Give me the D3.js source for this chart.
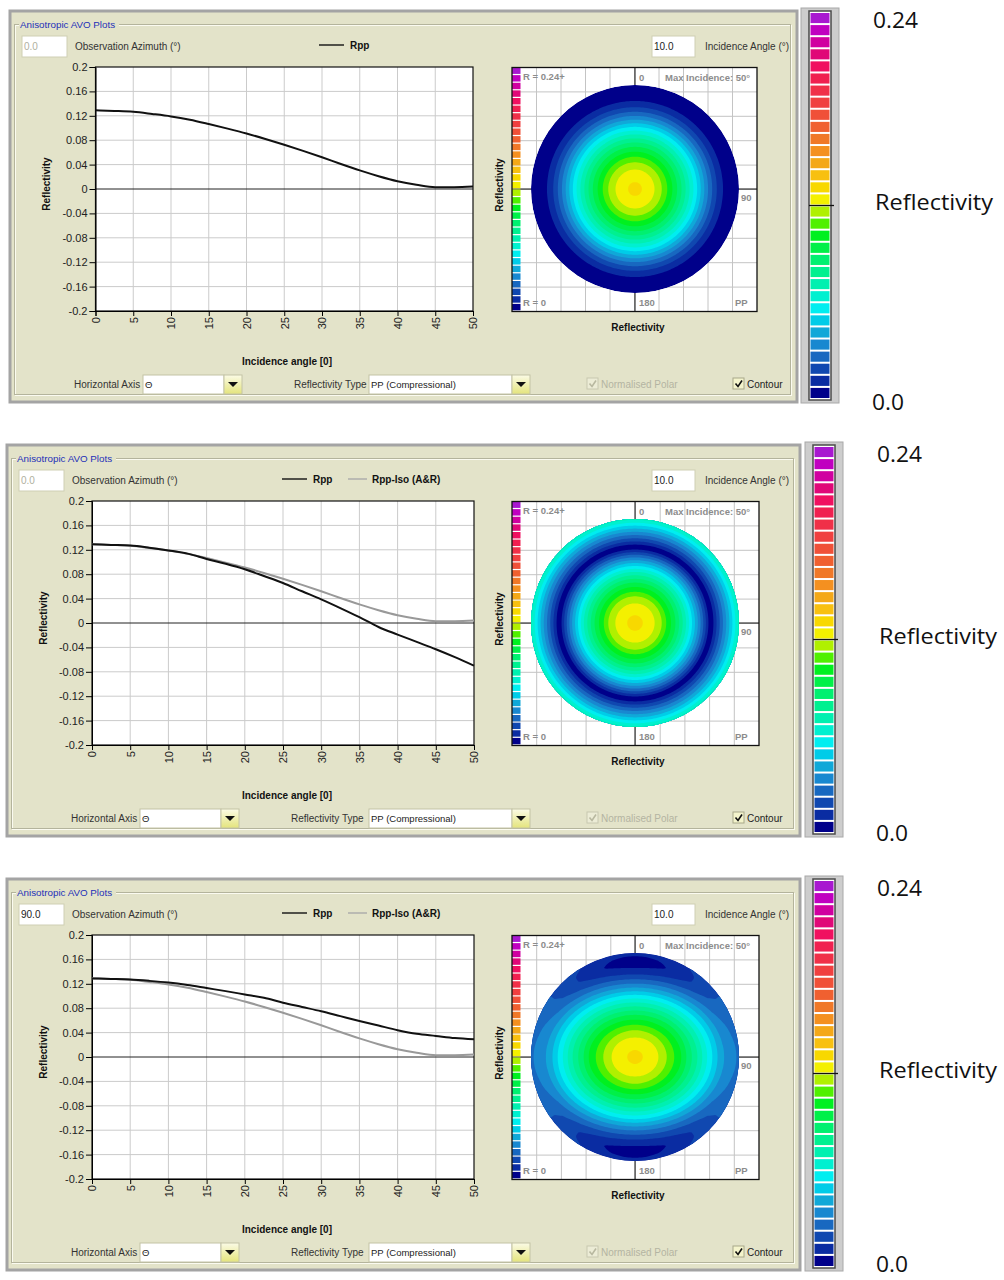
<!DOCTYPE html>
<html>
<head>
<meta charset="utf-8">
<script src="https://cdn.jsdelivr.net/npm/d3@7"></script>
<style>
  body { margin: 0; background: #fff; }
  svg { display: block; font-family: "Liberation Sans", Arial, sans-serif; }
</style>
</head>
<body>
<svg id="chart" width="1004" height="1280"></svg>
<script>
// incidence angles (deg) where the curves were read
const angles = [0, 2.5, 5, 7.5, 10, 12.5, 15, 17.5, 20, 22.5, 25, 27.5, 30, 32.5, 35, 37.5, 40, 42.5, 45, 47.5, 50];

// Rpp-Iso (A&R); also the single Rpp curve of the top plot
const rppIso = [0.129, 0.128, 0.1265, 0.123, 0.119, 0.1135, 0.1065, 0.099, 0.091, 0.082, 0.0725, 0.0625, 0.052, 0.041, 0.0305, 0.021, 0.0128, 0.007, 0.003, 0.003, 0.004];
// middle plot, Rpp at azimuth 0
const rppMid = [0.129, 0.128, 0.127, 0.1235, 0.119, 0.1137, 0.105, 0.097, 0.088, 0.077, 0.0656, 0.052, 0.0388, 0.0245, 0.0095, -0.0065, -0.019, -0.031, -0.043, -0.056, -0.070];
// bottom plot, Rpp at azimuth 90
const rppBot90 = [0.1288, 0.128, 0.127, 0.1248, 0.122, 0.118, 0.113, 0.108, 0.1025, 0.097, 0.089, 0.082, 0.075, 0.067, 0.059, 0.0515, 0.044, 0.038, 0.0345, 0.031, 0.029];
// bottom plot, Rpp at azimuth 0 (only seen in the polar map)
const rppBot0 = [0.129, 0.128, 0.1265, 0.123, 0.119, 0.1135, 0.1065, 0.099, 0.091, 0.082, 0.0725, 0.0625, 0.052, 0.041, 0.031, 0.022, 0.014, 0.008, 0.004, 0.006, 0.010];

const xTicks = [0, 5, 10, 15, 20, 25, 30, 35, 40, 45, 50];
const yTicks = [0.2, 0.16, 0.12, 0.08, 0.04, 0, -0.04, -0.08, -0.12, -0.16, -0.2];
const yTickLabels = ['0.2', '0.16', '0.12', '0.08', '0.04', '0', '-0.04', '-0.08', '-0.12', '-0.16', '-0.2'];

// 32 reflectivity levels, 0 -> 0.24, bottom to top
const levelColors = [
  '#00008a', '#0a2ca2', '#1048b0', '#1868c0', '#1888d0', '#10a8d8', '#00cce8', '#00eef0',
  '#00f0d0', '#00f0b0', '#00f090', '#00f070', '#00f048', '#00f020', '#50f000', '#b0f000',
  '#f4f000', '#f8d800', '#f8c010', '#f4a818', '#f49020', '#f07828', '#f06030', '#f05038',
  '#f04040', '#f03048', '#f02050', '#f01060', '#e00878', '#d000a0', '#c000c0', '#a818d0'
];
const colorbarLabels = ['0.24', 'Reflectivity', '0.0'];

const panels = [
  { top: 0, frameL: 10, frameR: 797, plotL: 95.5, plotR: 473, boxR: 757, barX: 801, labelX: 873, lowY: 410,
    az: '0.0', azEnabled: false, legendX: 319,
    series: [{ name: 'Rpp', values: rppIso, color: '#111' }], polar: [rppIso, rppIso] },
  { top: 434, frameL: 7, frameR: 800, plotL: 92, plotR: 474, boxR: 759, barX: 805, labelX: 877, lowY: 407,
    az: '0.0', azEnabled: false, legendX: 282,
    series: [{ name: 'Rpp', values: rppMid, color: '#111' }, { name: 'Rpp-Iso (A&R)', values: rppIso, color: '#999' }],
    polar: [rppMid, rppMid] },
  { top: 868, frameL: 7, frameR: 800, plotL: 92, plotR: 474, boxR: 759, barX: 805, labelX: 877, lowY: 404,
    az: '90.0', azEnabled: true, legendX: 282,
    series: [{ name: 'Rpp', values: rppBot90, color: '#111' }, { name: 'Rpp-Iso (A&R)', values: rppIso, color: '#999' }],
    polar: [rppBot0, rppBot90] }
];

const svg = d3.select('#chart');
svg.append('rect').attr('width', 1004).attr('height', 1280).attr('fill', '#fff');

const BG = '#e3e3c9';
const levelStep = 0.24 / levelColors.length;
const thresholds = d3.range(1, levelColors.length).map(k => k * levelStep);

const defs = svg.append('defs');
const btnGrad = defs.append('linearGradient').attr('id', 'btn').attr('x1', 0).attr('x2', 0).attr('y1', 0).attr('y2', 1);
btnGrad.append('stop').attr('offset', '0%').attr('stop-color', '#fbfbe6');
btnGrad.append('stop').attr('offset', '100%').attr('stop-color', '#e4e47c');

function textAt(g, x, y, str, opts = {}) {
  return g.append('text').attr('x', x).attr('y', y).text(str)
    .attr('font-size', opts.size || 10)
    .attr('font-weight', opts.bold ? 'bold' : null)
    .attr('fill', opts.fill || '#333')
    .attr('text-anchor', opts.anchor || 'start');
}

function inputBox(g, x, y, w, h, str, fill) {
  g.append('rect').attr('x', x).attr('y', y).attr('width', w).attr('height', h)
    .attr('fill', '#fff').attr('stroke', '#cfcfb4');
  textAt(g, x + 2, y + 14, str, { fill });
}

function combo(g, x, y, w, str) {
  g.append('rect').attr('x', x).attr('y', y).attr('width', w).attr('height', 19)
    .attr('fill', '#fff').attr('stroke', '#c4c4a6');
  textAt(g, x + 2, y + 13, str, { size: 9.5, fill: '#222' });
  g.append('rect').attr('x', x + w).attr('y', y).attr('width', 18).attr('height', 19)
    .attr('fill', 'url(#btn)').attr('stroke', '#c4c4a6');
  g.append('path').attr('d', `M${x + w + 4},${y + 7}h10l-5,5z`).attr('fill', '#111');
}

function checkbox(g, x, y, label, enabled) {
  g.append('rect').attr('x', x).attr('y', y).attr('width', 11).attr('height', 11)
    .attr('fill', enabled ? '#f4f4cc' : '#ececd6').attr('stroke', enabled ? '#a8a88a' : '#c8c8b0');
  g.append('path').attr('d', `M${x + 2.5},${y + 5.5}l2.5,3l4,-6`)
    .attr('fill', 'none').attr('stroke', enabled ? '#111' : '#b8b8a0').attr('stroke-width', 1.6);
  textAt(g, x + 14, y + 10, label, { fill: enabled ? '#222' : '#b4b4a2' });
}

function drawChart(g, p) {
  const x = d3.scaleLinear().domain([0, 50]).range([p.plotL, p.plotR]);
  const y = d3.scaleLinear().domain([-0.2, 0.2]).range([311, 67]);

  g.append('rect').attr('x', p.plotL).attr('y', 67).attr('width', p.plotR - p.plotL).attr('height', 244).attr('fill', '#fff');

  g.append('g').selectAll('line').data(xTicks.slice(1, -1)).join('line')
    .attr('x1', d => x(d)).attr('x2', d => x(d)).attr('y1', 67).attr('y2', 311)
    .attr('stroke', '#cbcbcb');
  g.append('g').selectAll('line').data(yTicks.filter(d => d !== 0 && Math.abs(d) < 0.2)).join('line')
    .attr('x1', p.plotL).attr('x2', p.plotR).attr('y1', d => y(d)).attr('y2', d => y(d))
    .attr('stroke', '#cbcbcb');
  g.append('line').attr('x1', p.plotL).attr('x2', p.plotR).attr('y1', y(0)).attr('y2', y(0)).attr('stroke', '#222');
  g.append('rect').attr('x', p.plotL).attr('y', 67).attr('width', p.plotR - p.plotL).attr('height', 244)
    .attr('fill', 'none').attr('stroke', '#111').attr('stroke-width', 1.2);

  const ya = g.append('g').attr('transform', `translate(${p.plotL},0)`)
    .call(d3.axisLeft(y).tickValues(yTicks).tickSize(6).tickPadding(2).tickFormat((d, i) => yTickLabels[i]));
  ya.attr('font-size', 11).attr('font-family', null);
  ya.selectAll('text').attr('fill', '#222');

  const xa = g.append('g').attr('transform', 'translate(0,311)')
    .call(d3.axisBottom(x).tickValues(xTicks).tickSize(5));
  xa.attr('font-size', 11).attr('font-family', null);
  xa.selectAll('text').attr('transform', 'rotate(-90)').attr('text-anchor', 'end')
    .attr('x', -6).attr('y', 0).attr('dy', '0.35em').attr('fill', '#222');

  const line = d3.line().x((d, i) => x(angles[i])).y(d => y(d)).curve(d3.curveMonotoneX);
  g.append('g').selectAll('path').data(p.series.slice().reverse()).join('path')
    .attr('d', d => line(d.values)).attr('fill', 'none')
    .attr('stroke', d => d.color).attr('stroke-width', 2);

  textAt(g, 47 + (p.frameL - 7), 184, 'Reflectivity', { bold: true, fill: '#111', anchor: 'middle' })
    .attr('transform', `rotate(-90,${47 + (p.frameL - 7)},184)`);
  textAt(g, 287, 365, 'Incidence angle [0]', { bold: true, fill: '#111', anchor: 'middle' });
}

function drawPolar(g, p, idx) {
  const bx = 512, by = 67.5, bw = p.boxR - 512, bh = 244;
  const cx = 635, cy = 189, R = 104;
  g.append('rect').attr('x', bx).attr('y', by).attr('width', bw).attr('height', bh).attr('fill', '#fff');
  const cols = d3.range(1, 10);
  g.append('g').selectAll('line').data(cols).join('line')
    .attr('x1', d => bx + d * bw / 10).attr('x2', d => bx + d * bw / 10).attr('y1', by).attr('y2', by + bh)
    .attr('stroke', '#c4c4c4');
  g.append('g').selectAll('line').data(cols).join('line')
    .attr('y1', d => by + d * bh / 10).attr('y2', d => by + d * bh / 10).attr('x1', bx).attr('x2', bx + bw)
    .attr('stroke', '#c4c4c4');
  g.append('line').attr('x1', cx).attr('x2', cx).attr('y1', by).attr('y2', by + bh).attr('stroke', '#111');
  g.append('line').attr('x1', bx).attr('x2', bx + bw).attr('y1', cy).attr('y2', cy).attr('stroke', '#111');

  // filled contour map of |Rpp| over incidence (radius) and azimuth (clockwise from top)
  const rScale = d3.scaleLinear().domain([0, 50]).range([0, R]);
  const s0 = d3.scaleLinear().domain(angles).range(p.polar[0]).clamp(true);
  const s90 = d3.scaleLinear().domain(angles).range(p.polar[1]).clamp(true);
  const n = 120, half = R + 4, cell = 2 * half / n;
  const values = new Float64Array(n * n);
  for (let j = 0; j < n; j++) {
    for (let i = 0; i < n; i++) {
      const dx = (i + 0.5) * cell - half, dy = (j + 0.5) * cell - half;
      const th = rScale.invert(Math.hypot(dx, dy));
      const phi = Math.atan2(dx, -dy);
      const c2 = Math.cos(phi) ** 2;
      values[j * n + i] = Math.abs(s0(th) * c2 + s90(th) * (1 - c2));
    }
  }
  const contours = d3.contours().size([n, n]).thresholds(thresholds)(values);
  const path = d3.geoPath(d3.geoIdentity().scale(cell).translate([cx - half, cy - half]));
  const clipId = `clip${idx}`;
  defs.append('clipPath').attr('id', clipId).append('circle').attr('cx', cx).attr('cy', cy).attr('r', R);
  const map = g.append('g').attr('clip-path', `url(#${clipId})`);
  map.append('circle').attr('cx', cx).attr('cy', cy).attr('r', R).attr('fill', levelColors[0]);
  map.selectAll('path').data(contours).join('path')
    .attr('d', path).attr('fill', (d, i) => levelColors[i + 1]);

  // colour strip on the left of the polar box
  const sh = bh / levelColors.length;
  g.append('g').selectAll('rect').data(levelColors).join('rect')
    .attr('x', bx).attr('width', 8.5)
    .attr('y', (d, i) => by + bh - (i + 1) * sh).attr('height', sh - 1.2)
    .attr('fill', d => d);

  g.append('rect').attr('x', bx).attr('y', by).attr('width', bw).attr('height', bh)
    .attr('fill', 'none').attr('stroke', '#111').attr('stroke-width', 1.3);

  const grey = { bold: true, size: 9.5, fill: '#8c8c8c' };
  textAt(g, 523, 80, 'R = 0.24+', grey);
  textAt(g, 639, 81, '0', grey);
  textAt(g, 665, 81, 'Max Incidence: 50°', grey);
  textAt(g, 741, cy + 12, '90', grey);
  textAt(g, 639, 306, '180', grey);
  textAt(g, 735, 306, 'PP', grey);
  textAt(g, 523, 306, 'R = 0', grey);
  textAt(g, 638, 331, 'Reflectivity', { bold: true, fill: '#111', anchor: 'middle' });
  textAt(g, 503, 185, 'Reflectivity', { bold: true, fill: '#111', anchor: 'middle' })
    .attr('transform', 'rotate(-90,503,185)');
}

function drawColorbar(g, p) {
  const x0 = p.barX, top = 12, bot = 399;
  g.append('rect').attr('x', x0).attr('y', 8).attr('width', 38).attr('height', 395)
    .attr('fill', '#cdcdcd').attr('stroke', '#a8a8a8');
  g.append('rect').attr('x', x0 + 8).attr('y', top - 1).attr('width', 22).attr('height', bot - top + 2)
    .attr('fill', '#fff').attr('stroke', '#4a4a4a').attr('stroke-width', 1.5);
  const sh = (bot - top) / levelColors.length;
  g.append('g').selectAll('rect').data(levelColors).join('rect')
    .attr('x', x0 + 9.5).attr('width', 19)
    .attr('y', (d, i) => bot - (i + 1) * sh + 1).attr('height', sh - 2)
    .attr('fill', d => d);
  const mid = bot - 16 * sh;
  g.append('line').attr('x1', x0 + 8).attr('x2', x0 + 33).attr('y1', mid).attr('y2', mid)
    .attr('stroke', '#111').attr('stroke-width', 1.3);

  const big = (x, y, str, len) => g.append('text').attr('x', x).attr('y', y).text(str)
    .attr('font-family', '"Open Sans", sans-serif').attr('font-size', 21).attr('fill', '#111')
    .attr('textLength', len).attr('lengthAdjust', 'spacingAndGlyphs');
  big(p.labelX, 28, colorbarLabels[0], 45);
  big(p.labelX + 2, 210, colorbarLabels[1], 118);
  big(p.labelX - 1, p.lowY, colorbarLabels[2], 32);
}

panels.forEach((p, idx) => {
  const g = svg.append('g').attr('transform', `translate(0,${p.top})`);
  const L = p.frameL;

  g.append('rect').attr('x', L).attr('y', 11).attr('width', p.frameR - L).attr('height', 391)
    .attr('fill', BG).attr('stroke', '#a4a4a4').attr('stroke-width', 3);
  g.append('rect').attr('x', L + 5.5).attr('y', 25.5).attr('width', p.frameR - L - 11).attr('height', 370)
    .attr('fill', 'none').attr('stroke', '#fbfbf0');
  g.append('rect').attr('x', L + 4.5).attr('y', 24.5).attr('width', p.frameR - L - 11).attr('height', 370)
    .attr('fill', 'none').attr('stroke', '#b4b49c');
  g.append('rect').attr('x', L + 9).attr('y', 18).attr('width', 100).attr('height', 12).attr('fill', BG);
  textAt(g, L + 10, 28, 'Anisotropic AVO Plots', { fill: '#2430b8', size: 9.8 });

  inputBox(g, L + 12, 36, 45, 21, p.az, p.azEnabled ? '#222' : '#b0b0a0');
  textAt(g, L + 65, 50, 'Observation Azimuth (°)');

  // legend
  p.series.forEach((s, i) => {
    const lx = p.legendX + i * 66;
    g.append('line').attr('x1', lx).attr('x2', lx + (i ? 19 : 25)).attr('y1', 45).attr('y2', 45)
      .attr('stroke', s.color === '#111' ? '#111' : '#aaa').attr('stroke-width', 1.4);
    textAt(g, lx + (i ? 24 : 31), 49, s.name, { bold: true, fill: '#111' });
  });

  inputBox(g, 652, 36, 43, 21, '10.0', '#222');
  textAt(g, 705, 50, 'Incidence Angle (°)');

  drawChart(g, p);
  drawPolar(g, p, idx);

  textAt(g, L + 64, 388, 'Horizontal Axis');
  combo(g, L + 133, 375, 81, 'Θ');
  textAt(g, L + 284, 388, 'Reflectivity Type');
  combo(g, 369, 375, 143, 'PP (Compressional)');
  checkbox(g, 587, 378, 'Normalised Polar', false);
  checkbox(g, 733, 378, 'Contour', true);

  drawColorbar(g, p);
});
</script>
</body>
</html>
